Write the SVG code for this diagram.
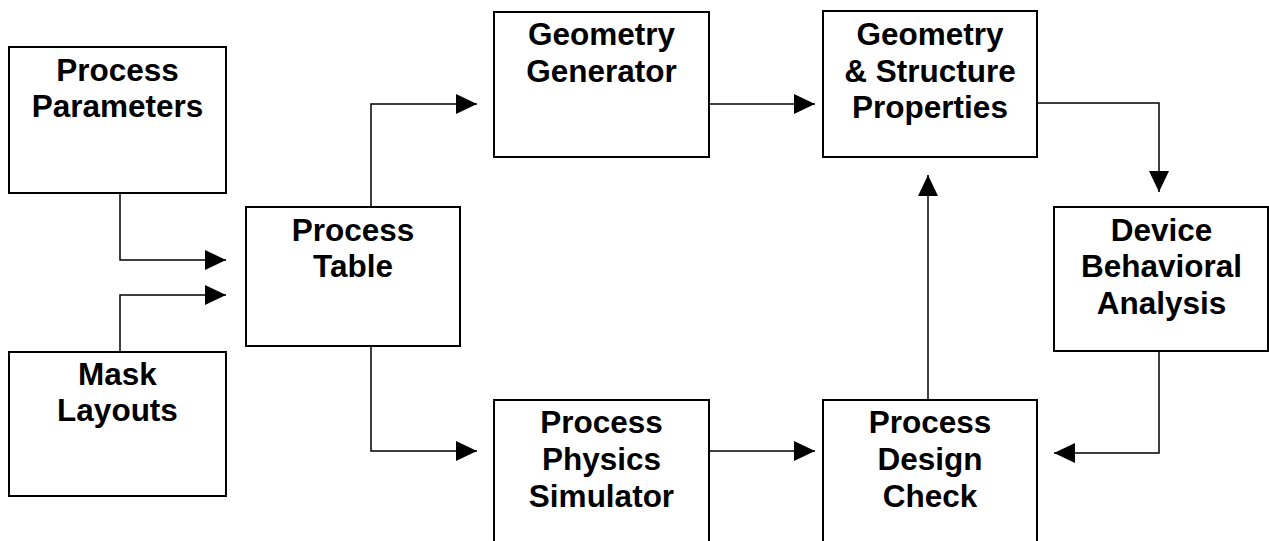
<svg xmlns="http://www.w3.org/2000/svg" width="1269" height="541" viewBox="0 0 1269 541">
  <style>
    .box { fill: #ffffff; stroke: #000000; stroke-width: 2; }
    .label { font-family: "Liberation Sans", Arial, sans-serif; font-weight: bold; font-size: 31.5px; fill: #000000; text-anchor: middle; }
    .wire { fill: none; stroke: #000000; stroke-width: 1.5; marker-end: url(#head); }
  </style>
  <defs>
    <marker id="head" markerUnits="userSpaceOnUse" markerWidth="21" markerHeight="20" refX="21" refY="10" orient="auto">
      <path d="M0,0 L21,10 L0,20 Z" fill="#000000"/>
    </marker>
  </defs>
  <rect width="1269" height="541" fill="#ffffff"/>

  <g id="connectors">
    <path class="wire" d="M120,193 V260 H226"/>
    <path class="wire" d="M120,352 V295 H226"/>
    <path class="wire" d="M371,207 V104 H477"/>
    <path class="wire" d="M371,346 V451 H477"/>
    <path class="wire" d="M709,104 H815"/>
    <path class="wire" d="M709,451 H815"/>
    <path class="wire" d="M1037,103 H1159 V192"/>
    <path class="wire" d="M1159,351 V453 H1054"/>
    <path class="wire" d="M928,400 V175"/>
  </g>

  <g id="process-parameters">
    <rect class="box" x="9" y="47" width="217" height="146"/>
    <text class="label" x="117.5" y="81">Process</text>
    <text class="label" x="117.5" y="117">Parameters</text>
  </g>

  <g id="mask-layouts">
    <rect class="box" x="9" y="352" width="217" height="144"/>
    <text class="label" x="117.5" y="385">Mask</text>
    <text class="label" x="117.5" y="421">Layouts</text>
  </g>

  <g id="process-table">
    <rect class="box" x="246" y="207" width="214" height="139"/>
    <text class="label" x="353" y="241">Process</text>
    <text class="label" x="353" y="277">Table</text>
  </g>

  <g id="geometry-generator">
    <rect class="box" x="494" y="12" width="215" height="145"/>
    <text class="label" x="601.5" y="45">Geometry</text>
    <text class="label" x="601.5" y="82">Generator</text>
  </g>

  <g id="geometry-structure-properties">
    <rect class="box" x="823" y="11" width="214" height="146"/>
    <text class="label" x="930" y="45">Geometry</text>
    <text class="label" x="930" y="82">&amp; Structure</text>
    <text class="label" x="930" y="118">Properties</text>
  </g>

  <g id="device-behavioral-analysis">
    <rect class="box" x="1054" y="207" width="214" height="144"/>
    <text class="label" x="1161.5" y="241">Device</text>
    <text class="label" x="1161.5" y="277">Behavioral</text>
    <text class="label" x="1161.5" y="314">Analysis</text>
  </g>

  <g id="process-physics-simulator">
    <rect class="box" x="494" y="400" width="215" height="150"/>
    <text class="label" x="601.5" y="433">Process</text>
    <text class="label" x="601.5" y="470">Physics</text>
    <text class="label" x="601.5" y="507">Simulator</text>
  </g>

  <g id="process-design-check">
    <rect class="box" x="823" y="400" width="214" height="150"/>
    <text class="label" x="930" y="433">Process</text>
    <text class="label" x="930" y="470">Design</text>
    <text class="label" x="930" y="507">Check</text>
  </g>
</svg>
